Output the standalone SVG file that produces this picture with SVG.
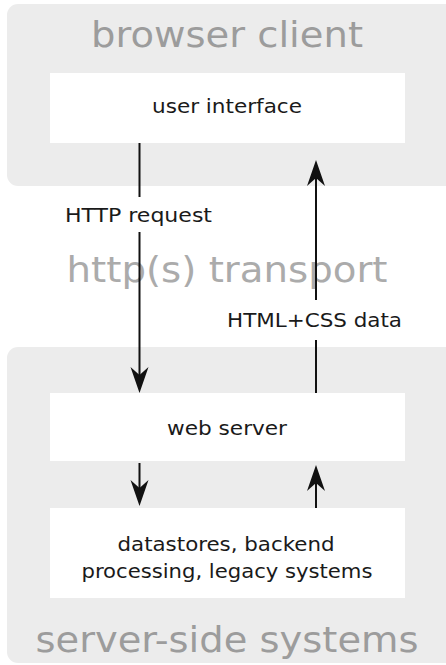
<svg xmlns="http://www.w3.org/2000/svg" width="446" height="665" viewBox="0 0 446 665">
<style>
.panel{fill:#ececec}
.box{fill:#ffffff}
.title{font-family:"DejaVu Sans","Noto Sans",Verdana,sans-serif;fill:#9c9c9c;text-anchor:middle;font-size:35px}
.lbl{font-family:"DejaVu Sans",sans-serif;font-stretch:condensed;fill:#1a1a1a;font-size:20px;text-anchor:middle}
.edge{stroke:#111;stroke-width:2;fill:none}
.head{fill:#111}
</style>
<defs>
<path id="down" d="M0,0 L-9,-26 L0,-18 L9,-26 Z"/>
<path id="up" d="M0,0 L-9,26 L0,18 L9,26 Z"/>
</defs>
<rect x="0" y="0" width="446" height="665" fill="#ffffff"/>
<g id="browser-client">
<rect class="panel" x="7" y="4" width="450" height="182" rx="11"/>
<text class="title" x="227" y="47" textLength="272" lengthAdjust="spacingAndGlyphs">browser client</text>
</g>
<g id="server-side">
<rect class="panel" x="7" y="347" width="450" height="316" rx="11"/>
<text class="title" x="227" y="652" textLength="383" lengthAdjust="spacingAndGlyphs">server-side systems</text>
</g>
<g id="transport">
<text class="title" x="227" y="282" style="fill:#ababab" textLength="321" lengthAdjust="spacingAndGlyphs">http(s) transport</text>
</g>
<g id="user-interface">
<rect class="box" x="50" y="73" width="355" height="70"/>
<text class="lbl" x="227" y="113" textLength="150" lengthAdjust="spacingAndGlyphs">user interface</text>
</g>
<g id="web-server">
<rect class="box" x="50" y="393" width="355" height="68"/>
<text class="lbl" x="227" y="435" textLength="120" lengthAdjust="spacingAndGlyphs">web server</text>
</g>
<g id="datastores">
<rect class="box" x="50" y="508" width="355" height="90"/>
<text class="lbl" x="226" y="551" textLength="217" lengthAdjust="spacingAndGlyphs">datastores, backend</text>
<text class="lbl" x="227" y="578" textLength="291" lengthAdjust="spacingAndGlyphs">processing, legacy systems</text>
</g>
<g id="connectors">
<line class="edge" x1="139.5" y1="143" x2="139.5" y2="197"/>
<line class="edge" x1="139.5" y1="232" x2="139.5" y2="378"/>
<use href="#down" class="head" x="139.5" y="393"/>
<text class="lbl" x="138.5" y="222" textLength="147" lengthAdjust="spacingAndGlyphs">HTTP request</text>
<line class="edge" x1="316" y1="393" x2="316" y2="340"/>
<line class="edge" x1="316" y1="300" x2="316" y2="175"/>
<use href="#up" class="head" x="316" y="160"/>
<text class="lbl" x="314.5" y="327" textLength="175" lengthAdjust="spacingAndGlyphs">HTML+CSS data</text>
<line class="edge" x1="139.5" y1="463" x2="139.5" y2="492"/>
<use href="#down" class="head" x="139.5" y="506"/>
<line class="edge" x1="316" y1="508" x2="316" y2="480"/>
<use href="#up" class="head" x="316" y="465"/>
</g>
</svg>
